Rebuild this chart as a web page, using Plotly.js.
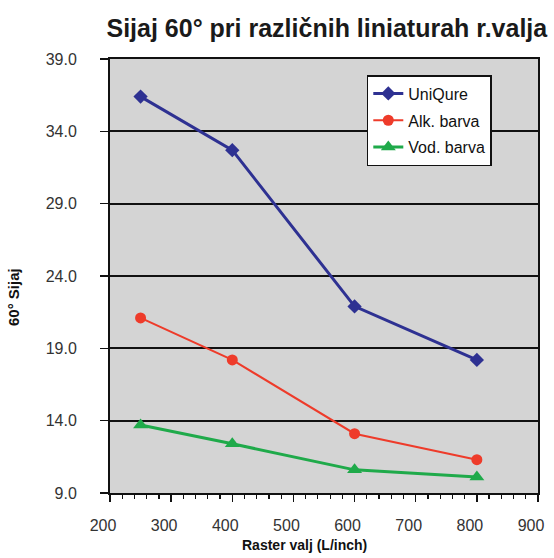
<!DOCTYPE html>
<html>
<head>
<meta charset="utf-8">
<script src="https://cdn.plot.ly/plotly-3.0.1.min.js"></script>
<style>html,body{margin:0;padding:0;background:#fff;}</style>
</head>
<body>
<div id="chart" style="width:554px;height:558px;"></div>
<script>
var rasterX = [250, 400, 600, 800];
var uniQure = [36.4, 32.7, 21.9, 18.2];
var alkBarva = [21.1, 18.2, 13.1, 11.3];
var vodBarva = [13.7, 12.4, 10.6, 10.1];
var seriesNames = ['UniQure', 'Alk. barva', 'Vod. barva'];
var xTicks = [200, 300, 400, 500, 600, 700, 800, 900];
var yTicks = [9, 14, 19, 24, 29, 34, 39];

var traces = [
  {x: rasterX, y: uniQure, name: seriesNames[0], mode: 'lines+markers', legendgroup: 'a',
   line: {color: '#2e3192', width: 3}, marker: {symbol: 'diamond', size: 11, color: '#2e3192'}},
  {x: rasterX, y: alkBarva, name: seriesNames[1], mode: 'lines+markers', legendgroup: 'b',
   line: {color: '#ee3b2a', width: 2}, marker: {symbol: 'circle', size: 11, color: '#ee3b2a'}},
  {x: rasterX, y: vodBarva, name: seriesNames[2], mode: 'lines+markers', legendgroup: 'c',
   line: {color: '#1faa4a', width: 3}, marker: {symbol: 'triangle-up', size: 13, color: '#1faa4a'}}
];

var layout = {
  width: 554, height: 558,
  margin: {l: 110, r: 16, t: 59, b: 65},
  paper_bgcolor: '#ffffff',
  plot_bgcolor: '#d4d4d4',
  font: {family: 'Liberation Sans, Arial, sans-serif', color: '#333333', size: 16},
  title: {text: '<b>Sijaj 60° pri različnih liniaturah r.valja</b>', font: {size: 25, color: '#1a1a1a'},
          x: 0.590, xanchor: 'center', y: 0.9498, yanchor: 'middle'},
  showlegend: true,
  legend: {x: 0.600, y: 0.963, xanchor: 'left', yanchor: 'top', bgcolor: '#ffffff',
           bordercolor: '#111111', borderwidth: 1.5, font: {size: 16, color: '#111111'},
           traceorder: 'grouped', tracegroupgap: 3, entrywidth: 135, entrywidthmode: 'pixels'},
  xaxis: {range: [200, 900], tickvals: xTicks, ticks: 'outside', ticklen: 7, tickwidth: 1.5, tickcolor: '#111',
          showline: true, linecolor: '#111', linewidth: 2, mirror: true, showgrid: false, zeroline: false,
          ticklabelstandoff: 10, ticklabelshift: -7,
          minor: {dtick: 20, ticks: 'outside', ticklen: 4, tickwidth: 1.2, tickcolor: '#111', showgrid: false}},
  yaxis: {range: [9, 39], tickvals: yTicks, tickformat: '.1f', ticks: 'outside', ticklen: 8, tickwidth: 1.5, tickcolor: '#111',
          showline: true, linecolor: '#111', linewidth: 2, mirror: true, showgrid: true, gridcolor: '#111', gridwidth: 2,
          zeroline: false, ticklabelstandoff: 20},
  annotations: [
    {text: '<b>60° Sijaj</b>', xref: 'paper', yref: 'paper', x: -0.2266, y: 0.4516, xanchor: 'center', yanchor: 'middle',
     textangle: -90, showarrow: false, font: {size: 15, color: '#111'}},
    {text: '<b>Raster valj (L/inch)</b>', xref: 'paper', yref: 'paper', x: 0.4556, y: -0.1198, xanchor: 'center', yanchor: 'middle',
     showarrow: false, font: {size: 14, color: '#111'}}
  ]
};

Plotly.newPlot('chart', traces, layout, {displayModeBar: false, staticPlot: true});
</script>
</body>
</html>
